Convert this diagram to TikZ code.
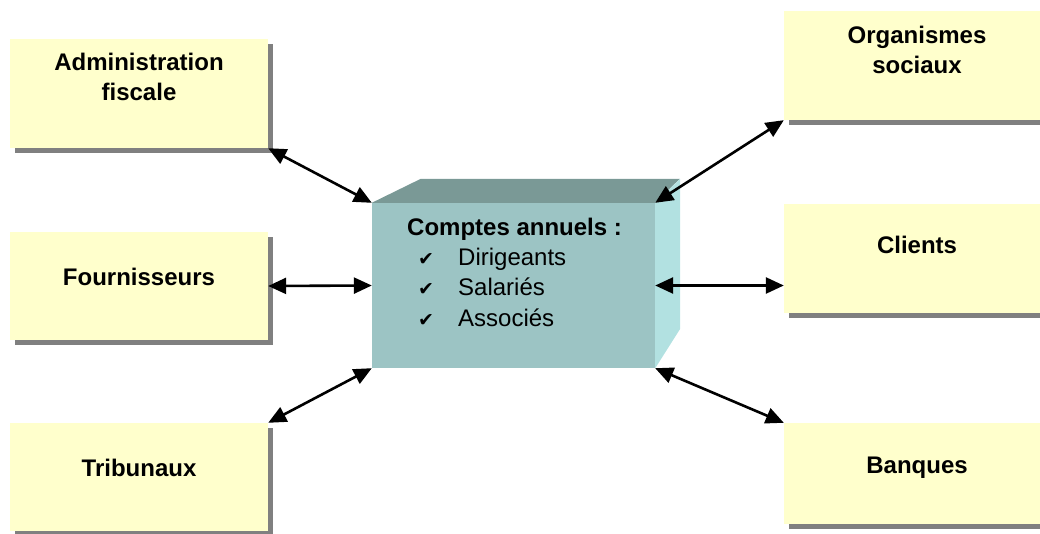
\documentclass[tikz,border=0pt]{standalone}
\usepackage{fontspec}
\setmainfont{Liberation Sans}
\newfontfamily\symfont{DejaVu Sans}
\usetikzlibrary{arrows.meta,shadows}

\definecolor{paleyellow}{RGB}{255,255,204}
\definecolor{shadowgray}{RGB}{128,128,128}
\definecolor{frontteal}{RGB}{156,196,196}
\definecolor{topteal}{RGB}{122,153,150}
\definecolor{sideteal}{RGB}{178,225,225}

\tikzset{
  partner/.style={fill=paleyellow, inner sep=0pt, minimum width=258pt,
    minimum height=109pt,
    drop shadow={shadow xshift=5pt, shadow yshift=-5pt, opacity=1, fill=shadowgray}},
  partnerR/.style={partner, minimum width=266pt},
  lbl/.style={font=\fontsize{24}{30}\selectfont\bfseries, align=center, inner sep=0pt},
  item/.style={anchor=base west, inner sep=0pt, font=\fontsize{24}{30}\selectfont},
  dbl/.style={{Triangle[length=18pt,width=16pt]}-{Triangle[length=18pt,width=16pt]},
    line width=2.6pt},
}
\newcommand{\chk}{\makebox[40pt][l]{{\symfont\fontsize{19}{19}\selectfont ✔}}}

\begin{document}
\begin{tikzpicture}[x=1pt, y=-1pt]
\clip (0,0) rectangle (1040,534);

% left side
\node[partner] (admin) at (139,93.5) {};
\node[lbl] (adminT) at (139,77) {Administration\\fiscale};
\node[partner, minimum height=108pt] (fourn) at (139,286) {};
\node[lbl] (fournT) at (139,277) {Fournisseurs};
\node[partner, minimum height=108pt] (trib) at (139,477) {};
\node[lbl] (tribT) at (139,468) {Tribunaux};

% right side
\node[partnerR] (orga) at (917,65.5) {};
\node[lbl] (orgaT) at (917,50) {Organismes\\sociaux};
\node[partnerR] (clients) at (917,258.5) {};
\node[lbl] (clientsT) at (917,245) {Clients};
\node[partnerR, minimum height=101pt] (banq) at (917,473.5) {};
\node[lbl] (banqT) at (917,468) {Banques};

% accounts block
\node[fill=frontteal, inner sep=0pt, minimum width=283pt, minimum height=165pt] (acc) at (513.5,285.5) {};
\fill[topteal] (acc.north west) -- ++(49,-24) -- ++(259,0) -- (acc.north east) -- cycle;
\fill[sideteal] (acc.north east) -- ++(25,-24) -- ++(0,150) -- (acc.south east) -- cycle;
\node[item, font=\fontsize{24}{30}\selectfont\bfseries] (accT) at (407,235.6) {Comptes annuels :};
\node[item] (dir) at (418,265.6) {\chk Dirigeants};
\node[item] (sal) at (418,295.6) {\chk Salariés};
\node[item] (ass) at (418,326.6) {\chk Associés};

% flows
\draw[dbl] (admin.south east) -- (acc.north west);
\draw[dbl] (fourn.east) -- (acc.west);
\draw[dbl] (trib.north east) -- (acc.south west);
\draw[dbl] (acc.north east) -- (orga.south west);
\draw[dbl] (acc.east) -- (acc.east -| clients.west);
\draw[dbl] (acc.south east) -- (banq.north west);
\end{tikzpicture}
\end{document}
